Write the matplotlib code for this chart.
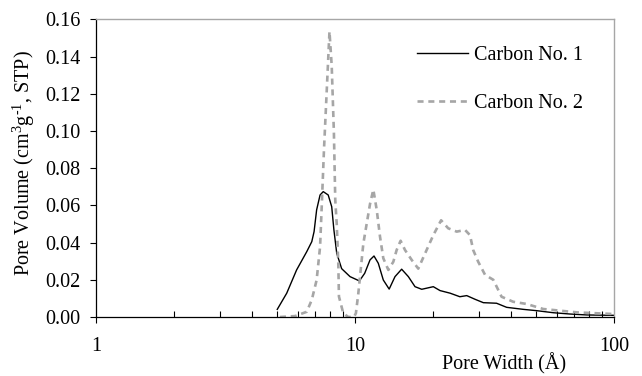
import matplotlib
matplotlib.use("Agg")
import matplotlib.pyplot as plt

plt.rcParams["font.family"] = ["Liberation Serif", "DejaVu Serif"]
plt.rcParams["mathtext.fontset"] = "custom"
plt.rcParams["mathtext.rm"] = "Liberation Serif"
plt.rcParams["mathtext.default"] = "regular"

# Pore size distributions (pore width in Angstrom, pore volume in cm3/g STP)
width_c1 = [5.01, 5.45, 5.95, 6.51, 6.81, 6.95, 7.11, 7.33, 7.54, 7.88, 8.13,
            8.29, 8.50, 8.88, 9.57, 10.4, 10.9, 11.43, 11.84, 12.3, 12.86,
            13.55, 14.27, 15.14, 16.07, 17.05, 18.1, 20.06, 21.3, 23.3, 25.4,
            27.0, 29.1, 31.3, 35.2, 38.5, 44.7, 50.3, 58.3, 67.6, 78.5, 99.4]
vol_c1 = [0.0041, 0.0128, 0.0253, 0.0351, 0.0405, 0.0459, 0.0576, 0.0656,
          0.0674, 0.0656, 0.0593, 0.0468, 0.0343, 0.0260, 0.0217, 0.0194,
          0.0235, 0.0307, 0.0328, 0.0289, 0.0199, 0.0150, 0.0217, 0.0257,
          0.0217, 0.0163, 0.0149, 0.0163, 0.0142, 0.0128, 0.0109, 0.0115,
          0.0095, 0.0077, 0.0074, 0.0052, 0.0041, 0.0034, 0.0023, 0.0016,
          0.0011, 0.0009]

width_c2 = [5.13, 5.87, 6.51, 6.81, 7.11, 7.33, 7.43, 7.59, 7.78, 7.97, 8.13,
            8.29, 8.39, 8.50, 8.62, 8.67, 9.01, 9.42, 9.91, 10.08, 10.3, 10.77,
            11.43, 11.77, 12.13, 12.49, 12.86, 13.45, 14.06, 14.48, 15.0, 15.6,
            16.55, 17.55, 18.9, 20.06, 21.5, 22.9, 24.7, 26.6, 27.8, 28.6,
            29.9, 31.8, 34.2, 36.8, 40.8, 46.0, 53.3, 61.9, 71.8, 85.8, 99.4]
vol_c2 = [0.0, 0.0005, 0.0028, 0.0092, 0.0199, 0.0377, 0.0576, 0.0900,
          0.1220, 0.1535, 0.1350, 0.0990, 0.0630, 0.0500, 0.0290, 0.0110,
          0.0020, 0.0, 0.0, 0.0020, 0.0127, 0.0395, 0.0608, 0.0685, 0.0576,
          0.0432, 0.0316, 0.0253, 0.0297, 0.0360, 0.0410, 0.0360, 0.0307,
          0.0260, 0.0360, 0.0440, 0.0520, 0.0477, 0.0459, 0.0468, 0.0440,
          0.0360, 0.0297, 0.0226, 0.0200, 0.0109, 0.0082, 0.0070, 0.0043,
          0.0034, 0.0025, 0.0020, 0.0016]

labels = ["Carbon No. 1", "Carbon No. 2"]
y_ticks = [0.00, 0.02, 0.04, 0.06, 0.08, 0.10, 0.12, 0.14, 0.16]
x_ticks = [1, 10, 100]

fs = 14.5
fig = plt.figure(figsize=(6.42, 3.76), dpi=100)
ax = fig.add_axes([96 / 642, 1 - 317 / 376, 518 / 642, 297.6 / 376])

ax.plot(width_c1, vol_c1, color="black", lw=1.0, label=labels[0])
ax.plot(width_c2, vol_c2, color="#a6a6a6", lw=1.9,
        linestyle=(0, (2.3, 1.8)), label=labels[1])

ax.set_xscale("log")
ax.set_xlim(1, 100)
ax.set_ylim(0, 0.16)
ax.set_xticks(x_ticks)
ax.set_xticklabels([str(v) for v in x_ticks])
ax.set_yticks(y_ticks)
ax.set_yticklabels([f"{v:.2f}" for v in y_ticks])

for side in ("left", "bottom"):
    ax.spines[side].set_color("black")
    ax.spines[side].set_linewidth(0.9)
for side in ("top", "right"):
    ax.spines[side].set_color("#a6a6a6")
    ax.spines[side].set_linewidth(1.0)

ax.tick_params(axis="y", which="major", direction="out", length=4.3,
               width=0.8, pad=7, labelsize=fs)
ax.tick_params(axis="x", which="major", direction="out", length=4.5,
               width=0.8, pad=10, labelsize=fs)
ax.tick_params(axis="x", which="minor", direction="in", length=4,
               width=0.8, labelbottom=False)

fig.text(24 / 642, 1 - 163 / 376,
         r"Pore Volume (cm$^{3}$g$^{\text{-}1}$, STP)",
         rotation=90, ha="center", va="center", fontsize=fs)
fig.text(504 / 642, 1 - 364 / 376, "Pore Width (Å)",
         ha="center", va="center", fontsize=fs)

ax.legend(loc="upper left", bbox_to_anchor=(0.619, 0.91), frameon=False,
          fontsize=fs, handlelength=2.55, handletextpad=0.3,
          labelspacing=1.4, borderpad=0, borderaxespad=0)

fig.savefig("out.png", dpi=100)
